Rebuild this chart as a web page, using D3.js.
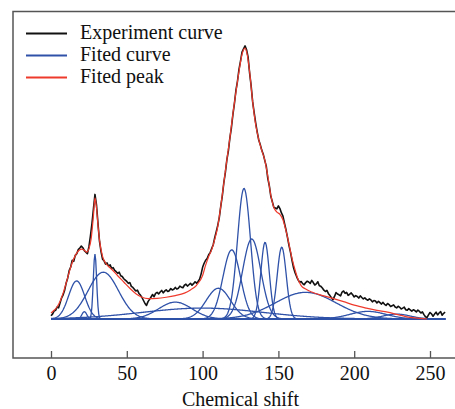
<!DOCTYPE html>
<html>
<head>
<meta charset="utf-8">
<script src="https://cdn.jsdelivr.net/npm/d3@7/dist/d3.min.js"></script>
<style>
    html, body { margin: 0; padding: 0; background: #fff; }
    svg { display: block; font-family: "Liberation Serif", "Times New Roman", serif; }
</style>
</head>
<body>
<div id="chart"></div>
<script>
// Tick dan label sumbu X
const xTicks = [0, 50, 100, 150, 200, 250];
const xTitle = "Chemical shift";
const legendLabels = ["Experiment curve", "Fited curve", "Fited peak"];

// Kurva eksperimen: intensitas per 1 satuan chemical shift (0..260)
const expStart = 0;
const expStep = 1;
const expY = [
    1.2, 1.8, 2.9, 3.2, 4.4, 4.1, 6.0, 7.8, 8.9, 10.6,
    13.2, 15.0, 17.8, 19.1, 21.6, 21.2, 23.4, 24.0, 25.5, 26.1,
    26.8, 26.2, 25.1, 24.6, 24.0, 26.5, 30.5, 35.0, 40.5, 45.8,
    42.0, 35.0, 28.5, 24.8, 22.0, 21.4, 20.2, 20.6, 19.4, 19.9,
    18.6, 18.9, 17.9, 17.4, 16.8, 17.2, 15.9, 15.6, 14.8, 14.3,
    13.8, 13.1, 13.4, 12.0, 11.6, 10.9, 10.3, 10.6, 9.4, 8.8,
    7.9, 6.8, 5.7, 5.0, 6.4, 7.2, 8.1, 9.0, 8.2, 9.4,
    9.8, 9.2, 9.9, 10.5, 9.6, 10.3, 10.7, 10.1, 10.4, 11.2,
    10.7, 10.9, 11.6, 11.0, 11.3, 12.1, 11.7, 11.5, 12.4, 12.8,
    12.1, 12.6, 13.1, 12.4, 13.0, 13.7, 13.2, 13.8, 14.6, 16.5,
    19.0, 20.5, 21.6, 22.2, 23.6, 24.4, 25.9, 27.3, 29.9, 32.1,
    34.4, 37.3, 41.5, 45.3, 50.1, 53.8, 58.5, 61.8, 66.6, 70.3,
    75.2, 79.3, 84.1, 87.4, 91.8, 94.8, 98.1, 99.3, 100.4, 99.0,
    96.3, 90.5, 85.8, 79.9, 75.9, 72.1, 68.8, 65.9, 64.2, 62.1,
    60.6, 58.3, 56.2, 51.7, 49.0, 45.1, 43.1, 41.0, 40.8, 40.5,
    41.6, 40.6, 39.0, 37.8, 35.2, 32.8, 30.0, 27.0, 24.5, 21.5,
    18.8, 17.0, 15.6, 14.4, 13.5, 13.8, 13.0, 12.6, 13.4, 13.9,
    13.6, 13.1, 14.2, 13.4, 12.5, 12.9, 13.7, 12.2, 12.0, 11.4,
    10.6, 10.1, 10.5, 9.3, 8.6, 7.8, 7.1, 8.3, 9.7, 9.2,
    8.9, 8.5, 9.9, 10.3, 9.4, 9.8, 8.7, 9.1, 9.6, 8.9,
    8.1, 8.6, 8.3, 7.7, 8.5, 7.9, 7.4, 7.8, 7.2, 6.9,
    7.4, 7.0, 6.3, 6.8, 6.6, 5.9, 6.5, 6.0, 5.5, 6.1,
    5.4, 5.0, 5.7, 5.3, 4.6, 4.9, 5.2, 4.4, 4.1, 4.7,
    4.3, 3.7, 4.0, 4.4, 3.4, 3.2, 3.8, 3.3, 2.9, 3.4,
    3.1, 2.6, 3.3, 2.8, 2.2, 2.6, 1.6, 0.8, 0.5, 1.5,
    2.4, 1.9, 1.0, 1.8, 2.5, 1.5, 2.2, 2.7, 1.4, 2.1,
    2.5
];

// Kurva hasil fitting (merah)
const fitX = [0, 2, 4, 6, 8, 10, 12, 14, 16, 18, 20, 22, 23.5, 25, 26.5, 28, 29, 30, 31, 32,
    34, 36, 38, 40, 44, 48, 52, 56, 60, 64, 70, 76, 82, 88, 92, 96, 100, 102, 104, 106,
    108, 110, 112, 114, 116, 118, 120, 122, 124, 126, 128, 129.5, 131, 133, 135, 137, 139, 141, 143, 145,
    147, 149, 151, 153, 155, 157, 159, 161, 163, 165, 168, 172, 180, 186, 193, 200, 208, 215, 222, 228,
    234, 240, 248];
const fitY = [2.2, 3.2, 4.4, 6.5, 9.5, 13.2, 17.2, 20.8, 23.3, 25.0, 25.7, 25.3, 24.6, 25.8, 29.5, 38, 44.5, 41, 34.5, 29,
    23, 20.6, 19.3, 18.3, 15.9, 13.6, 11.3, 9.3, 8.0, 7.5, 7.6, 8.0, 8.6, 9.5, 10.7, 12.4, 16, 19.8, 23, 25.5,
    29.3, 34, 41.5, 50, 58.5, 66.5, 75.5, 83.5, 91, 97.3, 99.6, 97, 91, 80, 71.5, 66, 62, 58.5, 52.5, 45.5,
    41, 39.3, 38.5, 36.5, 32.5, 27.5, 22.2, 18, 14.5, 12.3, 11, 9.9, 8.5, 7.6, 6.4, 5.1, 4.0, 3.2, 2.5, 1.7,
    0.9, 0.4, 0.0];

// Puncak hasil dekonvolusi (biru): pusat, tinggi, lebar (sigma)
const peakCenter = [100, 16.9, 22, 29, 34.5, 82, 110.4, 119.2, 127.3, 132.4, 141.2, 152.2, 168, 209, 228];
const peakHeight = [4, 14, 2.7, 23.9, 17.2, 6.2, 11.3, 25.4, 48, 29.4, 28.2, 26.4, 9.8, 2.8, 1.8];
const peakSigma = [40, 5.3, 1.6, 1.1, 10, 11, 8, 5.8, 4.3, 6, 2.8, 3.0, 20, 12, 9];
const peakRange = [0, 260];

const colors = { exp: "#111111", fit: "#ee3a2c", peak: "#2f52a8", frame: "#555555" };

document.addEventListener("DOMContentLoaded", function () {
    renderChart();
});

function renderChart() {
    const W = 455, H = 409;

    const svg = d3
        .select("#chart")
        .append("svg")
        .attr("width", W)
        .attr("height", H);

    // Skala X dan Y
    const xScale = d3.scaleLinear().domain([0, 250]).range([51, 430]);
    const yScale = d3.scaleLinear().domain([0, 100]).range([319, 47]);

    // Bingkai (kiri, atas, bawah)
    const frame = { left: 13, top: 11.5, bottom: 358, right: W };
    svg.append("path")
        .attr("d", `M${frame.right},${frame.top}H${frame.left}V${frame.bottom}H${frame.right}`)
        .attr("fill", "none")
        .attr("stroke", colors.frame)
        .attr("stroke-width", 1.5);

    // Sumbu X dengan tick ke dalam
    const axis = svg
        .append("g")
        .attr("transform", `translate(0,${frame.bottom})`)
        .call(
            d3.axisBottom(xScale)
                .tickValues(xTicks)
                .tickSizeInner(-7)
                .tickSizeOuter(0)
                .tickPadding(7.5)
        );
    axis.select(".domain").remove();
    axis.selectAll(".tick line").attr("stroke", colors.frame).attr("stroke-width", 1.3);
    axis.selectAll(".tick text")
        .attr("fill", "#111")
        .style("font-size", "20px")
        .style("font-family", '"Liberation Serif", "Times New Roman", serif');

    // Label sumbu X
    svg.append("text")
        .attr("x", (xScale(0) + xScale(250)) / 2)
        .attr("y", 406)
        .attr("text-anchor", "middle")
        .style("font-size", "20px")
        .attr("fill", "#111")
        .text(xTitle);

    // Generator garis
    const line = d3
        .line()
        .x((d) => xScale(d[0]))
        .y((d) => yScale(d[1]));

    // Kurva puncak (biru)
    const sampleX = d3.range(peakRange[0], peakRange[1] + 0.001, 0.5);
    peakCenter.forEach((c, i) => {
        const pts = sampleX.map((x) => [
            x,
            peakHeight[i] * Math.exp(-((x - c) ** 2) / (2 * peakSigma[i] ** 2)),
        ]);
        svg.append("path")
            .datum(pts)
            .attr("fill", "none")
            .attr("stroke", colors.peak)
            .attr("stroke-width", 1.3)
            .attr("d", line);
    });

    // Kurva eksperimen (hitam)
    const expPts = expY.map((v, i) => [expStart + i * expStep, v]);
    svg.append("path")
        .datum(expPts)
        .attr("fill", "none")
        .attr("stroke", colors.exp)
        .attr("stroke-width", 1.6)
        .attr("stroke-linejoin", "round")
        .attr("d", line);

    // Kurva fitting (merah)
    const fitPts = fitX.map((x, i) => [x, fitY[i]]);
    svg.append("path")
        .datum(fitPts)
        .attr("fill", "none")
        .attr("stroke", colors.fit)
        .attr("stroke-width", 1.2)
        .attr("d", line.curve(d3.curveMonotoneX));

    // Legenda
    const legendColors = [colors.exp, colors.peak, colors.fit];
    const legend = svg.append("g");
    legendLabels.forEach((label, i) => {
        const cy = 33.5 + i * 22;
        legend.append("line")
            .attr("x1", 26)
            .attr("x2", 67)
            .attr("y1", cy)
            .attr("y2", cy)
            .attr("stroke", legendColors[i])
            .attr("stroke-width", 2);
        legend.append("text")
            .attr("x", 80)
            .attr("y", cy + 5.5)
            .style("font-size", "20px")
            .attr("fill", "#111")
            .text(label);
    });
}
</script>
</body>
</html>
